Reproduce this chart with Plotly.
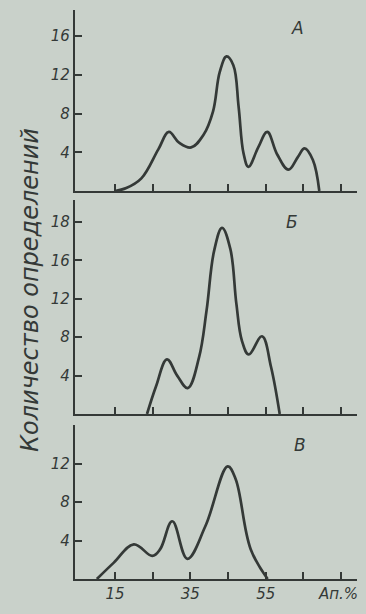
import plotly.graph_objects as go

# ---- data ----
x_a = [15, 18, 22, 26.5, 29.3, 32, 35.2, 38.5, 41, 42.8, 44.6, 46.4, 47.8, 49.1, 50.4, 53, 55.4, 58, 61, 63.5, 65.3, 67.5, 69.2]
y_a = [0, 0.3, 1.3, 4.3, 6.1, 5.0, 4.5, 5.8, 8.2, 12.3, 13.9, 13.0, 8.7, 3.9, 2.5, 4.5, 6.1, 3.8, 2.2, 3.5, 4.4, 3.2, 0]

x_b = [23.5, 25.9, 28.8, 31.5, 34.3, 37.3, 39.3, 41.3, 43.4, 45.6, 47.2, 48.7, 50.5, 54, 56.4, 58.7]
y_b = [0, 2.9, 5.7, 4.0, 2.7, 5.9, 10.8, 17.0, 19.4, 17.2, 11.5, 7.6, 6.2, 8.1, 4.9, 0]

x_c = [10.2, 14.7, 20, 24.9, 27, 30.2, 34.2, 39, 44.9, 47, 51, 55.5]
y_c = [0, 1.7, 3.6, 2.4, 3.1, 6.0, 2.1, 5.5, 11.7, 10.4, 3.1, 0]

panel_labels = ["А", "Б", "В"]
x_ticks = [15, 25, 35, 45, 55, 65, 75]
x_ticktext = ["15", "", "35", "", "55", "", ""]
y_ticks_a = [4, 8, 12, 16]
y_ticktext_a = ["4", "8", "12", "16"]
y_ticks_b = [4, 8, 12, 16, 20]
y_ticktext_b = ["4", "8", "12", "16", "18"]
y_ticks_c = [4, 8, 12]
y_ticktext_c = ["4", "8", "12"]
y_title = "Количество определений"
x_unit = "Ап.%"

INK = "#343937"
BG = "#c9d1ca"
FONT = "DejaVu Sans"

fig = go.Figure()
series = [(x_a, y_a, "x", "y"), (x_b, y_b, "x2", "y2"), (x_c, y_c, "x3", "y3")]
for xs, ys, xa, ya in series:
    fig.add_trace(go.Scatter(x=xs, y=ys, xaxis=xa, yaxis=ya, mode="lines",
                             line=dict(color=INK, width=2.7, shape="spline", smoothing=1.1),
                             hoverinfo="skip", showlegend=False))

xdom = [75/366, 357/366]
ydoms = [[1-191/614, 1-10/614], [1-414/614, 1-200/614], [1-579/614, 1-425/614]]
yranges = [[0, 18.7], [0, 22.3], [0, 16]]
yticks = [(y_ticks_a, y_ticktext_a), (y_ticks_b, y_ticktext_b), (y_ticks_c, y_ticktext_c)]

tickfont = dict(family=FONT, size=15, color=INK, style="italic")
layout = dict(
    width=366, height=614, margin=dict(l=0, r=0, t=0, b=0),
    paper_bgcolor=BG, plot_bgcolor=BG, showlegend=False,
)
names = ["", "2", "3"]
for i, n in enumerate(names):
    layout["xaxis" + n] = dict(
        domain=xdom, range=[4.4, 79.2], anchor="y" + n,
        showline=True, linecolor=INK, linewidth=2.2, showgrid=False, zeroline=False,
        ticks="inside", ticklen=7, tickwidth=1.6, tickcolor=INK,
        tickvals=x_ticks, ticktext=x_ticktext if i == 2 else [""] * len(x_ticks),
        tickfont=tickfont, fixedrange=True,
    )
    layout["yaxis" + n] = dict(
        domain=ydoms[i], range=yranges[i], anchor="x" + n,
        showline=True, linecolor=INK, linewidth=2.2, showgrid=False, zeroline=False,
        ticks="inside", ticklen=7, tickwidth=1.6, tickcolor=INK,
        tickvals=yticks[i][0], ticktext=yticks[i][1],
        tickfont=tickfont, fixedrange=True,
    )
fig.update_layout(**layout)

ann = []
letter_pos = [(297, 28), (292, 222), (300, 445)]
for lab, (px, py) in zip(panel_labels, letter_pos):
    ann.append(dict(x=px/366, y=1-py/614, xref="paper", yref="paper", text=lab,
                    xanchor="center", yanchor="middle",
                    showarrow=False, font=dict(family=FONT, size=17, color=INK, style="italic")))
ann.append(dict(x=30/366, y=1-290/614, xref="paper", yref="paper", text=y_title,
                xanchor="center", yanchor="middle",
                textangle=-90, showarrow=False,
                font=dict(family=FONT, size=24, color=INK, style="italic")))
ann.append(dict(x=338/366, y=1-594/614, xref="paper", yref="paper", text=x_unit,
                xanchor="center", yanchor="middle",
                showarrow=False, font=dict(family=FONT, size=15, color=INK, style="italic")))
fig.update_layout(annotations=ann)

fig.write_html("out.html", config={"displayModeBar": False},
               post_script="document.body.style.margin='0';document.body.style.overflow='hidden';")
